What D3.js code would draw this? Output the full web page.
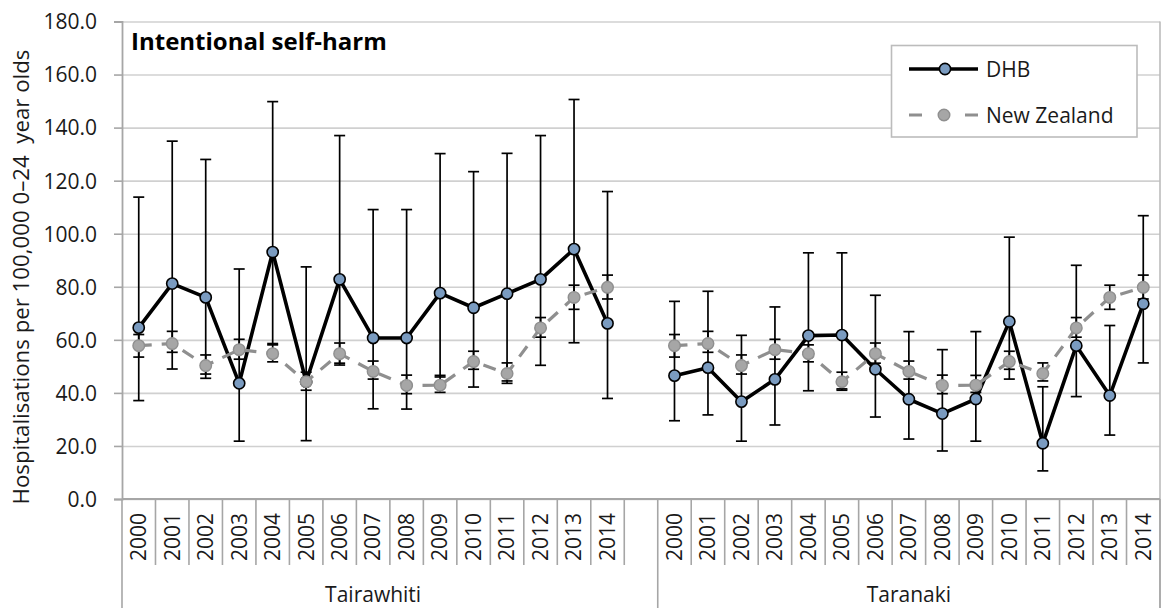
<!DOCTYPE html>
<html>
<head>
<meta charset="utf-8">
<script src="https://cdn.jsdelivr.net/npm/d3@7"></script>
<style>
  html, body { margin: 0; padding: 0; background: #fff; }
  svg { display: block; font-family: "Segoe UI", "Open Sans", "Noto Sans", sans-serif; }
  text { white-space: pre; }
</style>
</head>
<body>
<svg id="chart" width="1162" height="610"></svg>
<script>
// ---------- DATA ----------
const years = ["2000","2001","2002","2003","2004","2005","2006","2007","2008","2009","2010","2011","2012","2013","2014"];
const groups = ["Tairawhiti", "Taranaki"];
const yTicks = [0, 20, 40, 60, 80, 100, 120, 140, 160, 180];

const dhbTairawhiti   = [64.6, 81.2, 76.0, 43.6, 93.1, 44.2, 82.8, 60.7, 60.7, 77.6, 72.1, 77.4, 82.8, 94.2, 66.2];
const dhbTairawhitiLo = [37.1, 49.0, 45.5, 21.8, 58.6, 22.0, 50.5, 34.0, 33.9, 46.0, 42.2, 43.6, 50.4, 58.9, 37.9];
const dhbTairawhitiHi = [113.8, 134.9, 128.0, 86.7, 149.8, 87.5, 137.0, 109.1, 109.1, 130.2, 123.4, 130.3, 137.0, 150.6, 115.9];

const dhbTaranaki   = [46.5, 49.5, 36.7, 45.1, 61.6, 61.8, 48.9, 37.6, 32.2, 37.7, 66.9, 21.0, 57.8, 39.0, 73.6];
const dhbTaranakiLo = [29.5, 31.7, 21.8, 27.9, 40.8, 41.5, 30.9, 22.6, 18.1, 21.8, 45.2, 10.6, 38.6, 24.1, 51.3];
const dhbTaranakiHi = [74.5, 78.3, 61.7, 72.4, 92.8, 92.8, 76.8, 63.1, 56.3, 63.1, 98.7, 42.3, 88.1, 65.4, 106.8];

const nzRate = [57.8, 58.6, 50.3, 56.3, 54.8, 44.2, 54.8, 48.1, 42.8, 42.9, 51.8, 47.3, 64.5, 76.0, 79.8];
const nzLo   = [53.5, 55.3, 47.1, 52.7, 51.7, 41.0, 51.2, 45.2, 39.7, 40.2, 48.9, 44.5, 61.0, 71.5, 75.4];
const nzHi   = [62.0, 63.2, 54.3, 60.2, 58.1, 47.8, 58.8, 52.0, 46.7, 46.6, 55.7, 51.3, 68.4, 80.6, 84.4];

const chartTitle = "Intentional self-harm";
const yTitle = "Hospitalisations per 100,000 0\u201324  year olds";
const seriesNames = ["DHB", "New Zealand"];

// ---------- BUILD ROWS ----------
const dhbByGroup = {
  "Tairawhiti": { v: dhbTairawhiti, lo: dhbTairawhitiLo, hi: dhbTairawhitiHi },
  "Taranaki":   { v: dhbTaranaki,   lo: dhbTaranakiLo,   hi: dhbTaranakiHi }
};
const slots = [];
groups.forEach((g, gi) => {
  if (gi > 0) slots.push("gap" + gi);
  years.forEach(y => slots.push(g + "|" + y));
});
const series = groups.map(g => ({
  group: g,
  dhb: years.map((y, i) => ({ key: g + "|" + y, v: dhbByGroup[g].v[i], lo: dhbByGroup[g].lo[i], hi: dhbByGroup[g].hi[i] })),
  nz:  years.map((y, i) => ({ key: g + "|" + y, v: nzRate[i], lo: nzLo[i], hi: nzHi[i] }))
}));

// ---------- LAYOUT ----------
const svg = d3.select("#chart");
const X0 = 122, X1 = 1160, YT = 21.5, YB = 499;
const x = d3.scaleBand().domain(slots).range([X0, X1]).paddingInner(0).paddingOuter(0);
const y = d3.scaleLinear().domain([0, 180]).range([YB, YT]);
const cx = k => x(k) + x.bandwidth() / 2;

const tickFont = 21;

// gridlines
svg.append("g")
  .attr("transform", `translate(${X0},0)`)
  .call(d3.axisLeft(y).tickValues(yTicks).tickSize(-(X1 - X0)).tickFormat(""))
  .call(g => g.select(".domain").remove())
  .call(g => g.selectAll("line").attr("stroke", "#d0d0d0").attr("stroke-width", 1.6));

// right border
svg.append("line").attr("x1", X1).attr("x2", X1).attr("y1", YT).attr("y2", 608)
  .attr("stroke", "#bcbcbc").attr("stroke-width", 1.6);

// y axis
const yAxisG = svg.append("g")
  .attr("transform", `translate(${X0},0)`)
  .call(d3.axisLeft(y).tickValues(yTicks).tickSize(8).tickPadding(17).tickFormat(d3.format(".1f")));
yAxisG.select(".domain").attr("stroke", "#a6a6a6").attr("stroke-width", 1.8);
yAxisG.selectAll(".tick line").attr("stroke", "#a6a6a6").attr("stroke-width", 1.6);
yAxisG.selectAll(".tick text").attr("font-size", tickFont).attr("fill", "#1a1a1a")
  .attr("font-family", "'Segoe UI','Open Sans','Noto Sans',sans-serif").attr("dy", "0.35em");

// x axis baseline
svg.append("line").attr("x1", X0).attr("x2", X1).attr("y1", YB).attr("y2", YB)
  .attr("stroke", "#a6a6a6").attr("stroke-width", 1.8);

// category separators
const boundaries = d3.range(slots.length + 1);
const longIdx = new Set([0, slots.length]);
slots.forEach((s, i) => { if (s.startsWith("gap")) longIdx.add(i + 1); });
svg.append("g").selectAll("line").data(boundaries).join("line")
  .attr("x1", i => i < slots.length ? x(slots[i]) : X1)
  .attr("x2", i => i < slots.length ? x(slots[i]) : X1)
  .attr("y1", YB)
  .attr("y2", i => longIdx.has(i) ? 608 : 565)
  .attr("stroke", "#a6a6a6").attr("stroke-width", 1.6);

// year labels
svg.append("g").selectAll("text").data(slots.filter(s => !s.startsWith("gap"))).join("text")
  .attr("transform", s => `translate(${cx(s)},537) rotate(-90)`)
  .attr("text-anchor", "middle").attr("dy", "0.35em")
  .attr("font-size", tickFont).attr("fill", "#1a1a1a")
  .text(s => s.split("|")[1]);

// group labels
svg.append("g").selectAll("text").data(groups).join("text")
  .attr("x", g => (x(g + "|" + years[0]) + x(g + "|" + years[years.length - 1]) + x.bandwidth()) / 2)
  .attr("y", 602)
  .attr("text-anchor", "middle")
  .attr("font-size", tickFont).attr("fill", "#1a1a1a")
  .text(g => g);

// y title
const yt = svg.append("text")
  .attr("transform", "translate(29,277) rotate(-90)")
  .attr("text-anchor", "middle")
  .attr("font-size", 19).attr("fill", "#1a1a1a")
  .text(yTitle);
{
  const len = yt.node().getComputedTextLength();
  yt.attr("font-size", 19 * 455 / len);
}

// chart title
const tt = svg.append("text")
  .attr("x", 131).attr("y", 50)
  .attr("font-size", 22).attr("font-weight", "bold").attr("fill", "#000")
  .text(chartTitle);
{
  const len = tt.node().getComputedTextLength();
  tt.attr("font-size", Math.min(24, 22 * 256 / len));
}

// ---------- MARKS ----------
const capW = 5.5;
function errorBars(g, data) {
  const eb = g.append("g").selectAll("g").data(data).join("g");
  eb.append("line").attr("x1", d => cx(d.key)).attr("x2", d => cx(d.key))
    .attr("y1", d => y(d.lo)).attr("y2", d => y(d.hi));
  eb.append("line").attr("x1", d => cx(d.key) - capW).attr("x2", d => cx(d.key) + capW)
    .attr("y1", d => y(d.hi)).attr("y2", d => y(d.hi));
  eb.append("line").attr("x1", d => cx(d.key) - capW).attr("x2", d => cx(d.key) + capW)
    .attr("y1", d => y(d.lo)).attr("y2", d => y(d.lo));
}
const ebG = svg.append("g").attr("stroke", "#000").attr("stroke-width", 1.7);
series.forEach(s => { errorBars(ebG, s.dhb); errorBars(ebG, s.nz); });

const line = d3.line().x(d => cx(d.key)).y(d => y(d.v));

// DHB
series.forEach(s => {
  svg.append("path").datum(s.dhb).attr("d", line)
    .attr("fill", "none").attr("stroke", "#000").attr("stroke-width", 3.6).attr("stroke-linejoin", "round");
});
series.forEach(s => {
  svg.append("g").selectAll("circle").data(s.dhb).join("circle")
    .attr("cx", d => cx(d.key)).attr("cy", d => y(d.v)).attr("r", 5.6)
    .attr("fill", "#7a9bc0").attr("stroke", "#000").attr("stroke-width", 1.6);
});
// NZ
series.forEach(s => {
  svg.append("path").datum(s.nz).attr("d", line)
    .attr("fill", "none").attr("stroke", "#8f8f8f").attr("stroke-width", 3.2)
    .attr("stroke-dasharray", "13,10");
});
series.forEach(s => {
  svg.append("g").selectAll("circle").data(s.nz).join("circle")
    .attr("cx", d => cx(d.key)).attr("cy", d => y(d.v)).attr("r", 5.8)
    .attr("fill", "#a6a6a6").attr("stroke", "#8f8f8f").attr("stroke-width", 1.4);
});

// ---------- LEGEND ----------
const lg = svg.append("g");
lg.append("rect").attr("x", 891.5).attr("y", 45.5).attr("width", 245.5).attr("height", 91.5)
  .attr("fill", "#fff").attr("stroke", "#bcbcbc").attr("stroke-width", 1.6);
// DHB entry
lg.append("line").attr("x1", 909).attr("x2", 978).attr("y1", 69).attr("y2", 69)
  .attr("stroke", "#000").attr("stroke-width", 3.6);
lg.append("circle").attr("cx", 945).attr("cy", 69).attr("r", 5.6)
  .attr("fill", "#7a9bc0").attr("stroke", "#000").attr("stroke-width", 1.6);
// NZ entry
lg.append("line").attr("x1", 909).attr("x2", 978).attr("y1", 115).attr("y2", 115)
  .attr("stroke", "#8f8f8f").attr("stroke-width", 3.2).attr("stroke-dasharray", "13,23,0,20,13");
lg.append("circle").attr("cx", 944).attr("cy", 115).attr("r", 5.8)
  .attr("fill", "#a6a6a6").attr("stroke", "#8f8f8f").attr("stroke-width", 1.4);
lg.selectAll("text.lt").data(seriesNames).join("text").attr("class", "lt")
  .attr("x", 986).attr("y", (d, i) => i === 0 ? 76.5 : 122.5)
  .attr("font-size", tickFont).attr("fill", "#1a1a1a")
  .text(d => d);
</script>
</body>
</html>
